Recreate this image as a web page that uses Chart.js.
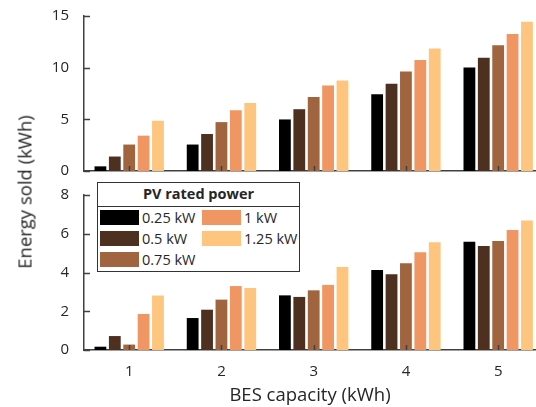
<!DOCTYPE html>
<html>
<head>
<meta charset="utf-8">
<script src="https://cdn.jsdelivr.net/npm/chart.js@4.4.1/dist/chart.umd.min.js"></script>
<style>
    html, body { margin: 0; padding: 0; background: #fff; }
    #wrap { position: relative; width: 536px; height: 407px; overflow: hidden; font-family: 'Open Sans', sans-serif; }
    #wrap canvas { position: absolute; left: 0; top: 0; }
    #yTitle {
        position: absolute; left: 24px; top: 192px; white-space: nowrap;
        transform: translate(-50%, -50%) rotate(-90deg);
        font-size: 18.5px; color: #262626;
    }
    #legend {
        position: absolute; left: 97px; top: 182px; width: 203px; height: 90px;
        border: 1.5px solid #333; background: #fff; box-sizing: border-box; z-index: 5;
        font-size: 14.5px; color: #262626;
    }
    #legend .title { height: 23px; line-height: 22px; text-align: center; font-weight: bold; border-bottom: 1.5px solid #333; }
    #legend .item { position: absolute; height: 16px; line-height: 16px; white-space: nowrap; }
    #legend .swatch { display: inline-block; width: 39px; height: 15px; vertical-align: top; margin-right: 3px; }
</style>
</head>
<body>
<div id="wrap">
    <canvas id="topChart" width="536" height="407"></canvas>
    <canvas id="bottomChart" width="536" height="407"></canvas>
    <div id="yTitle">Energy sold (kWh)</div>
    <div id="legend"><div class="title">PV rated power</div></div>
</div>
<script>
// ======================================
// Data
// ======================================
const besCapacity = [1, 2, 3, 4, 5];
const pvLabels = ['0.25 kW', '0.5 kW', '0.75 kW', '1 kW', '1.25 kW'];
const pvColors = ['#000000', '#4d3020', '#a0643f', '#ef9662', '#fec57e'];

// top panel
const top025 = [0.45, 2.56, 4.99, 7.42, 10.01];
const top05  = [1.40, 3.58, 5.98, 8.44, 10.97];
const top075 = [2.56, 4.73, 7.16, 9.63, 12.18];
const top1   = [3.42, 5.88, 8.28, 10.74, 13.27];
const top125 = [4.86, 6.59, 8.76, 11.86, 14.45];

// bottom panel
const bot025 = [0.17, 1.65, 2.82, 4.13, 5.59];
const bot05  = [0.72, 2.08, 2.74, 3.91, 5.37];
const bot075 = [0.28, 2.60, 3.08, 4.48, 5.63];
const bot1   = [1.86, 3.30, 3.36, 5.04, 6.20];
const bot125 = [2.81, 3.20, 4.29, 5.56, 6.68];

const topSeries = [top025, top05, top075, top1, top125];
const bottomSeries = [bot025, bot05, bot075, bot1, bot125];

const axisColor = '#404040';
const textColor = '#262626';
const fontFamily = "'Open Sans', sans-serif";

// inward tick marks like the original figure
const innerTicks = {
    id: 'innerTicks',
    afterDatasetsDraw(chart) {
        const { ctx, chartArea, scales } = chart;
        ctx.save();
        ctx.strokeStyle = axisColor;
        ctx.lineWidth = 1.5;
        ctx.beginPath();
        scales.y.ticks.forEach(t => {
            const py = Math.round(scales.y.getPixelForValue(t.value)) + 0.5;
            ctx.moveTo(chartArea.left, py);
            ctx.lineTo(chartArea.left + 6, py);
        });
        scales.x.ticks.forEach(t => {
            const px = Math.round(scales.x.getPixelForValue(t.value)) + 0.5;
            ctx.moveTo(px, chartArea.bottom);
            ctx.lineTo(px, chartArea.bottom - 5);
        });
        ctx.stroke();
        ctx.restore();
    }
};

function buildDatasets(series) {
    return series.map((vals, i) => ({
        label: pvLabels[i],
        data: besCapacity.map((c, j) => ({ x: c, y: vals[j] })),
        backgroundColor: pvColors[i],
        borderWidth: 0,
        categoryPercentage: 0.78,
        barPercentage: 0.82
    }));
}

function createPanel(id, series, yMax, yStep, pad, showX) {
    const ctx = document.getElementById(id);
    return new Chart(ctx, {
        type: 'bar',
        data: { datasets: buildDatasets(series) },
        options: {
            responsive: false,
            animation: false,
            devicePixelRatio: 1,
            layout: { padding: pad },
            plugins: {
                legend: { display: false },
                tooltip: { enabled: false }
            },
            scales: {
                x: {
                    type: 'linear',
                    min: 0.51,
                    max: 5.41,
                    offset: false,
                    afterBuildTicks: (scale) => {
                        scale.ticks = besCapacity.map(v => ({ value: v }));
                    },
                    afterFit: (scale) => { scale.height = showX ? 57 : 0; },
                    grid: { display: false },
                    border: { display: true, color: axisColor, width: 1.5 },
                    ticks: {
                        display: showX,
                        color: textColor,
                        font: { family: fontFamily, size: 15 },
                        padding: 5,
                        maxRotation: 0
                    },
                    title: {
                        display: showX,
                        text: 'BES capacity (kWh)',
                        color: textColor,
                        font: { family: fontFamily, size: 18.5 },
                        padding: { top: 1, bottom: 0 }
                    }
                },
                y: {
                    min: 0,
                    max: yMax,
                    afterFit: (scale) => { scale.width = 84; },
                    grid: { display: false },
                    border: { display: true, color: axisColor, width: 1.5 },
                    ticks: {
                        stepSize: yStep,
                        color: textColor,
                        font: { family: fontFamily, size: 15 },
                        padding: 7
                    }
                }
            }
        },
        plugins: [innerTicks]
    });
}

function buildLegend() {
    const box = document.getElementById('legend');
    // column-first order, 3 rows
    const slots = [
        [2, 27], [2, 48], [2, 69],
        [104, 27], [104, 48]
    ];
    pvLabels.forEach((label, i) => {
        const item = document.createElement('div');
        item.className = 'item';
        item.style.left = slots[i][0] + 'px';
        item.style.top = slots[i][1] + 'px';
        item.innerHTML = '<span class="swatch" style="background:' + pvColors[i] + '"></span>' + label;
        box.appendChild(item);
    });
}

createPanel('topChart', topSeries, 15, 5, { top: 14, bottom: 236, left: 0, right: 0 }, false);
createPanel('bottomChart', bottomSeries, 8, 2, { top: 195, bottom: 0, left: 0, right: 0 }, true);
buildLegend();
</script>
</body>
</html>
